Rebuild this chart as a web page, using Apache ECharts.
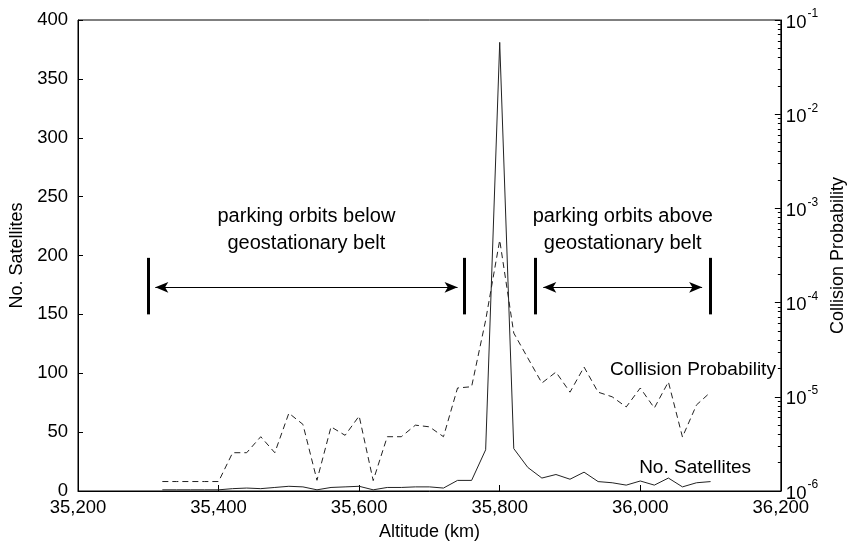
<!DOCTYPE html>
<html>
<head>
<meta charset="utf-8">
<script src="https://cdn.jsdelivr.net/npm/echarts@6/dist/echarts.min.js"></script>
<style>
  html, body { margin: 0; padding: 0; background: #fff; }
  #chart { width: 855px; height: 550px; }
</style>
</head>
<body>
<div id="chart"></div>
<script>
// altitude bins (km)
var altitudes = [35320, 35340, 35360, 35380, 35400, 35420, 35440, 35460, 35480, 35500,
                 35520, 35540, 35560, 35580, 35600, 35620, 35640, 35660, 35680, 35700,
                 35720, 35740, 35760, 35780, 35800, 35820, 35840, 35860, 35880, 35900,
                 35920, 35940, 35960, 35980, 36000, 36020, 36040, 36060, 36080, 36100]
var satellites = [1, 1, 1, 1, 1, 2, 2.5, 2, 3, 4,
                  3.5, 1, 3, 3.5, 4, 1, 3, 3, 3.5, 3.5,
                  2.5, 9, 9, 35, 381, 36, 20, 11, 14, 10,
                  16, 8, 7, 5, 8.5, 5, 11, 3.5, 7, 8]
var collisionProb = [1.26e-6, 1.26e-6, 1.26e-6, 1.26e-6, 1.26e-6, 2.55e-6, 2.55e-6, 3.77e-6, 2.55e-6, 6.7e-6,
                     5.1e-6, 1.3e-6, 4.8e-6, 3.9e-6, 6.25e-6, 1.29e-6, 3.77e-6, 3.77e-6, 5.0e-6, 4.8e-6,
                     3.77e-6, 1.24e-5, 1.28e-5, 6.5e-5, 4.6e-4, 4.75e-5, 2.58e-5, 1.4e-5, 1.83e-5, 1.12e-5,
                     2.07e-5, 1.12e-5, 1.0e-5, 7.8e-6, 1.24e-5, 7.6e-6, 1.44e-5, 3.74e-6, 8.2e-6, 1.12e-5]

// annotation brackets (altitude, no. satellites units)
var bracketAlts = [35300, 35750, 35850, 36100]
var bracketRange = [150, 198]
var arrowBelow = [35310, 35740]
var arrowAbove = [35862, 36088]
var arrowLevel = 173
var belowText = 'parking orbits below\ngeostationary belt'
var aboveText = 'parking orbits above\ngeostationary belt'
var textLevel = 222

var FONT = '"Liberation Sans", Arial, sans-serif'

function pairs(xs, ys) {
    var out = []
    for (var i = 0; i < xs.length; i++) out.push([xs[i], ys[i]])
    return out
}

function fmtKm(v) {
    var s = String(v)
    return s.slice(0, s.length - 3) + ',' + s.slice(s.length - 3)
}

// minor ticks for the log axis: 2..9 in each decade
var minorLog = []
for (var e = -6; e < -1; e++) {
    for (var m = 2; m < 10; m++) minorLog.push(m * Math.pow(10, e))
}

var bars = []
for (var b = 0; b < bracketAlts.length; b++) {
    bars.push([{ coord: [bracketAlts[b], bracketRange[0]] }, { coord: [bracketAlts[b], bracketRange[1]] }])
}

var chart = echarts.init(document.getElementById('chart'))

var option = {
    animation: false,
    backgroundColor: '#fff',
    textStyle: { fontFamily: FONT },
    grid: { left: 78, right: 72, top: 20, bottom: 59, show: true, borderColor: '#000', borderWidth: 1 },
    xAxis: {
        type: 'value', min: 35200, max: 36200, interval: 200,
        name: 'Altitude (km)', nameLocation: 'middle', nameGap: 32,
        nameTextStyle: { color: '#000', fontSize: 18, fontFamily: FONT },
        axisLine: { lineStyle: { color: '#000' } },
        axisTick: { inside: true, length: 6, lineStyle: { color: '#000' } },
        axisLabel: { color: '#000', fontSize: 18.5, margin: 7, formatter: fmtKm },
        splitLine: { show: false }
    },
    yAxis: [
        {
            type: 'value', min: 0, max: 400, interval: 50, position: 'left',
            name: 'No. Satellites', nameLocation: 'middle', nameGap: 52,
            nameTextStyle: { color: '#000', fontSize: 18, fontFamily: FONT },
            axisLine: { show: true, lineStyle: { color: '#000' } },
            axisTick: { inside: true, length: 5, lineStyle: { color: '#000' } },
            axisLabel: { color: '#000', fontSize: 18.5, margin: 10 },
            splitLine: { show: false }
        },
        {
            type: 'log', logBase: 10, min: 1e-6, max: 1e-1, position: 'right',
            name: 'Collision Probability', nameLocation: 'middle', nameGap: 48,
            nameTextStyle: { color: '#000', fontSize: 18, fontFamily: FONT },
            axisLine: { show: true, lineStyle: { color: '#000' } },
            axisTick: { inside: true, length: 6, lineStyle: { color: '#000' } },
            axisLabel: {
                color: '#000', margin: 5,
                formatter: function (v) {
                    return '{b|10}{e|' + Math.round(Math.log10(v)) + '}'
                },
                rich: {
                    b: { fontSize: 18.5, color: '#000', fontFamily: FONT, verticalAlign: 'bottom' },
                    e: { fontSize: 12, color: '#000', fontFamily: FONT, verticalAlign: 'bottom', padding: [0, 0, 12, 1] }
                }
            },
            splitLine: { show: false }
        },
        {
            type: 'log', logBase: 10, min: 1e-6, max: 1e-1, position: 'right',
            axisLine: { show: false },
            axisTick: { inside: true, length: 3, customValues: minorLog, lineStyle: { color: '#000' } },
            axisLabel: { show: false },
            splitLine: { show: false }
        }
    ],
    series: [
        {
            name: 'No. Satellites', type: 'line', yAxisIndex: 0,
            data: pairs(altitudes, satellites),
            symbol: 'none',
            lineStyle: { color: '#222', width: 1 },
            markLine: {
                silent: true, symbol: 'none',
                label: { show: false },
                lineStyle: { color: '#000', width: 3, type: 'solid' },
                data: bars.concat([
                    [{ coord: [arrowBelow[0], arrowLevel], symbol: 'arrow', lineStyle: { width: 1 } },
                     { coord: [arrowBelow[1], arrowLevel], symbol: 'arrow' }],
                    [{ coord: [arrowAbove[0], arrowLevel], symbol: 'arrow', lineStyle: { width: 1 } },
                     { coord: [arrowAbove[1], arrowLevel], symbol: 'arrow' }]
                ]),
                symbolSize: [8, 13]
            },
            markPoint: {
                silent: true, symbol: 'circle', symbolSize: 0,
                label: { show: true, position: 'inside', color: '#000', fontSize: 20, fontFamily: FONT, lineHeight: 27 },
                data: [
                    { coord: [(arrowBelow[0] + arrowBelow[1]) / 2, textLevel], label: { formatter: belowText } },
                    { coord: [(bracketAlts[2] + bracketAlts[3]) / 2, textLevel], label: { formatter: aboveText } },
                    { coord: [36075, 103], label: { formatter: 'Collision Probability', fontSize: 19 } },
                    { coord: [36078, 20], label: { formatter: 'No. Satellites', fontSize: 19 } }
                ]
            }
        },
        {
            name: 'Collision Probability', type: 'line', yAxisIndex: 1,
            data: pairs(altitudes, collisionProb),
            symbol: 'none',
            lineStyle: { color: '#222', width: 1, type: [6, 4] }
        }
    ]
}

chart.setOption(option)
</script>
</body>
</html>
